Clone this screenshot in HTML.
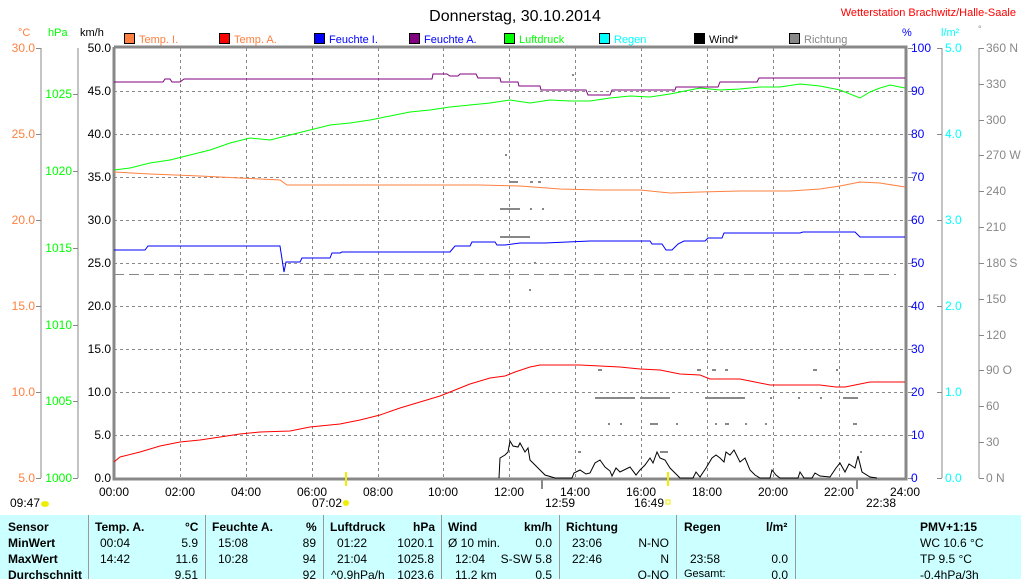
<!DOCTYPE html>
<html><head><meta charset="utf-8"><style>
body{margin:0;background:#fff;width:1021px;height:579px;overflow:hidden;font-family:"Liberation Sans",sans-serif}
svg text{font-family:"Liberation Sans",sans-serif;font-size:12px}
.tb{position:absolute;left:0;top:515px;width:1021px;height:64px;background:#ccffff;font-size:12px}
.tb div{position:absolute;white-space:nowrap}
.b{font-weight:bold}
.sep{position:absolute;top:0;width:1px;height:64px;background:#999}
</style></head><body>
<svg width="1021" height="515" style="position:absolute;left:0;top:0">
<text x="515" y="21" font-size="16" text-anchor="middle" style="font-size:16px">Donnerstag, 30.10.2014</text>
<text x="1016" y="16" fill="#f00" text-anchor="end" style="font-size:11px">Wetterstation Brachwitz/Halle-Saale</text>
<g style="font-size:11px">
<text x="18" y="36" fill="#ff8040" style="font-size:11px">°C</text>
<text x="48" y="36" fill="#0f0" style="font-size:11px">hPa</text>
<text x="80" y="36" style="font-size:11px">km/h</text>
<text x="902" y="36" fill="#00f" style="font-size:11px">%</text>
<text x="941" y="36" fill="#0ff" style="font-size:11px">l/m²</text>
<text x="978" y="32" fill="#888" style="font-size:9px">°</text>
</g>
<g stroke="#000" stroke-width="1">
<rect x="124.5" y="33.5" width="10" height="10" fill="#ff8040"/><rect x="219.5" y="33.5" width="10" height="10" fill="#f00"/>
<rect x="314.5" y="33.5" width="10" height="10" fill="#00f"/><rect x="409.5" y="33.5" width="10" height="10" fill="#800080"/>
<rect x="504.5" y="33.5" width="10" height="10" fill="#0f0"/><rect x="599.5" y="33.5" width="10" height="10" fill="#0ff"/>
<rect x="694.5" y="33.5" width="10" height="10" fill="#000"/><rect x="789.5" y="33.5" width="10" height="10" fill="#888"/>
</g>
<g style="font-size:11px">
<text x="139" y="43" fill="#ff8040" style="font-size:11px">Temp. I.</text><text x="234" y="43" fill="#ff8040" style="font-size:11px">Temp. A.</text>
<text x="329" y="43" fill="#00f" style="font-size:11px">Feuchte I.</text><text x="424" y="43" fill="#00f" style="font-size:11px">Feuchte A.</text>
<text x="519" y="43" fill="#0f0" style="font-size:11px">Luftdruck</text><text x="614" y="43" fill="#0ff" style="font-size:11px">Regen</text>
<text x="709" y="43" style="font-size:11px">Wind*</text><text x="804" y="43" fill="#888" style="font-size:11px">Richtung</text>
</g>
<!-- grid -->
<g stroke="#888" stroke-dasharray="3,3" stroke-width="1">
<path d="M114 91.5H906M114 134.5H906M114 177.5H906M114 220.5H906M114 263.5H906M114 306.5H906M114 349.5H906M114 392.5H906M114 435.5H906"/>
<path d="M180.5 48V478M246.5 48V478M312.5 48V478M378.5 48V478M443.5 48V478M509.5 48V478M575.5 48V478M641.5 48V478M707.5 48V478M773.5 48V478M839.5 48V478"/>
</g>
<path d="M114 274.5H896" stroke="#888" stroke-dasharray="10,5"/>
<!-- frame -->
<path d="M114 47V479H906V47H114" fill="none" stroke="#888" stroke-width="3"/>
<!-- left axes -->
<g stroke="#888" fill="none"><path d="M41 48V478M78 48V478"/>
<path d="M36 48.5h5M36 134.5h5M36 220.5h5M36 306.5h5M36 392.5h5M36 478.5h5M73 94.5h5M73 171.5h5M73 248.5h5M73 325.5h5M73 401.5h5M73 478.5h5"/>
<path d="M908 48.5h5M908 91.5h5M908 134.5h5M908 177.5h5M908 220.5h5M908 263.5h5M908 306.5h5M908 349.5h5M908 392.5h5M908 435.5h5M908 478.5h5"/>
<path d="M942 48V478M937 48.5h5M937 134.5h5M937 220.5h5M937 306.5h5M937 392.5h5M937 478.5h5"/>
<path d="M979 48V478M979 48.5h5M979 84.5h5M979 120.5h5M979 155.5h5M979 191.5h5M979 227.5h5M979 263.5h5M979 299.5h5M979 335.5h5M979 370.5h5M979 406.5h5M979 442.5h5M979 478.5h5"/></g>
<g fill="#ff8040" text-anchor="end" style="font-size:11px">
<text x="35" y="52">30.0</text><text x="35" y="138">25.0</text><text x="35" y="224">20.0</text><text x="35" y="310">15.0</text><text x="35" y="396">10.0</text><text x="35" y="482">5.0</text></g>
<g fill="#0c0" text-anchor="end" style="font-size:11px">
<text x="72" y="98" fill="#0f0">1025</text><text x="72" y="175" fill="#0f0">1020</text><text x="72" y="252" fill="#0f0">1015</text><text x="72" y="329" fill="#0f0">1010</text><text x="72" y="405" fill="#0f0">1005</text><text x="72" y="482" fill="#0f0">1000</text></g>
<g text-anchor="end" style="font-size:11px">
<text x="111" y="52">50.0</text><text x="111" y="95">45.0</text><text x="111" y="138">40.0</text><text x="111" y="181">35.0</text><text x="111" y="224">30.0</text><text x="111" y="267">25.0</text><text x="111" y="310">20.0</text><text x="111" y="353">15.0</text><text x="111" y="396">10.0</text><text x="111" y="439">5.0</text><text x="111" y="482">0.0</text></g>
<g fill="#00f" style="font-size:11px">
<text x="911" y="52">100</text><text x="911" y="95">90</text><text x="911" y="138">80</text><text x="911" y="181">70</text><text x="911" y="224">60</text><text x="911" y="267">50</text><text x="911" y="310">40</text><text x="911" y="353">30</text><text x="911" y="396">20</text><text x="911" y="439">10</text><text x="911" y="482">0</text></g>
<g fill="#0ff" style="font-size:11px">
<text x="945" y="52">5.0</text><text x="945" y="138">4.0</text><text x="945" y="224">3.0</text><text x="945" y="310">2.0</text><text x="945" y="396">1.0</text><text x="945" y="482">0.0</text></g>
<g fill="#888" style="font-size:11px">
<text x="986" y="52">360 N</text><text x="986" y="88">330</text><text x="986" y="124">300</text><text x="986" y="159">270 W</text><text x="986" y="195">240</text><text x="986" y="231">210</text><text x="986" y="267">180 S</text><text x="986" y="303">150</text><text x="986" y="339">120</text><text x="986" y="374">90  O</text><text x="986" y="410">60</text><text x="986" y="446">30</text><text x="986" y="482">0    N</text></g>
<!-- x labels -->
<g text-anchor="middle" style="font-size:11px">
<text x="114" y="496">00:00</text><text x="180" y="496">02:00</text><text x="246" y="496">04:00</text><text x="312" y="496">06:00</text><text x="378" y="496">08:00</text><text x="443" y="496">10:00</text><text x="509" y="496">12:00</text><text x="575" y="496">14:00</text><text x="641" y="496">16:00</text><text x="707" y="496">18:00</text><text x="773" y="496">20:00</text><text x="839" y="496">22:00</text><text x="905" y="496">24:00</text></g>
<g style="font-size:11px"><text x="10" y="507">09:47</text><text x="312" y="507">07:02</text><text x="545" y="507">12:59</text><text x="634" y="507">16:49</text><text x="866" y="507">22:38</text></g>
<ellipse cx="45" cy="504" rx="4" ry="3" fill="#ee0"/><circle cx="346" cy="503" r="3" fill="#ee0"/><rect x="666" y="500" width="4" height="4" fill="none" stroke="#ee0"/>
<path d="M346 472V486M668 472V486" stroke="#ee0" stroke-width="2"/>
<path d="M542 479V489M857 479V489" stroke="#888" stroke-width="2"/>
<!-- series -->
<polyline fill="none" stroke="#800080" points="114,82 163,82 165,79 170,79 172,82 180,82 184,79 225,79 226,79 432,79 433,74 447,74 450,76 458,76 460,74 476,74 478,78 500,78 501,82 518,82 519,86 540,86 541,90 586,90 588,95 610,95 612,90 675,90 676,87 718,87 720,82 757,82 759,78 905,78"/>
<polyline fill="none" stroke="#0f0" points="114,170 130,168 150,163 170,160 190,155 210,150 230,143 250,138 270,140 290,135 310,130 330,125 350,123 370,120 390,116 410,112 430,110 450,107 470,105 490,103 510,100 530,103 550,100 570,101 590,101 610,98 630,96 650,97 670,94 690,90 700,88 720,90 740,89 760,87 780,87 800,84 820,86 840,90 860,98 870,92 880,88 890,85 905,88"/>
<polyline fill="none" stroke="#ff8040" points="114,172 150,174 200,176 260,179 280,180 287,185 420,185 480,185 520,186 560,189 600,190 640,190 670,193 700,192 740,191 790,191 820,189 840,186 860,182 880,183 905,187"/>
<polyline fill="none" stroke="#00f" points="114,250 145,250 148,246 280,246 284,272 286,262 300,262 302,258 330,258 332,253 340,253 342,252 450,252 455,246 470,246 472,242 495,242 497,245 505,245 520,243 545,243 590,241 640,241 650,241 652,244 662,244 666,250 672,250 678,244 684,241 705,241 708,238 722,238 724,233 800,233 803,232 855,232 860,237 905,237"/>
<polyline fill="none" stroke="#f00" points="114,462 120,457 140,452 160,446 180,442 200,440 220,437 240,434 260,432 290,431 310,427 340,424 360,420 380,415 400,408 420,402 440,396 455,390 470,384 490,378 505,376 515,372 530,367 540,365 580,365 600,366 620,367 640,369 660,370 680,374 700,375 710,379 740,379 770,385 820,385 836,387 845,387 860,384 870,382 905,382"/>
<polyline fill="none" stroke="#000" points="499,478 500,458 505,455 508,452 510,441 513,446 518,447 520,443 525,452 528,448 530,460 535,465 540,470 545,475 555,478 572,478 574,473 580,470 586,474 590,473 595,463 600,460 605,467 610,471 612,476 616,468 620,472 630,467 636,475 640,470 645,465 650,458 653,463 657,452 660,458 665,460 670,468 675,473 680,478 693,478 696,472 700,477 706,468 712,458 716,455 720,458 724,462 726,452 730,455 734,450 740,462 745,458 750,470 755,475 760,478 770,478 772,470 776,475 780,478 798,478 800,472 804,478 812,478 815,473 820,476 830,477 836,468 840,463 845,472 849,464 855,468 858,456 862,472 870,477 877,478"/>
<g fill="#888">
<rect x="505" y="154" width="2" height="2"/><rect x="510" y="181" width="8" height="2"/><rect x="530" y="181" width="3" height="2"/><rect x="538" y="181" width="3" height="2"/>
<rect x="500" y="208" width="20" height="2"/><rect x="530" y="208" width="2" height="2"/><rect x="542" y="208" width="2" height="2"/>
<rect x="500" y="236" width="30" height="2"/><rect x="534" y="262" width="2" height="2"/><rect x="529" y="289" width="2" height="2"/><rect x="572" y="74" width="2" height="2"/>
<rect x="598" y="369" width="4" height="2"/><rect x="697" y="369" width="4" height="2"/><rect x="712" y="369" width="4" height="2"/><rect x="725" y="369" width="3" height="2"/><rect x="813" y="369" width="4" height="2"/><rect x="836" y="369" width="2" height="2"/>
<rect x="595" y="397" width="40" height="2"/><rect x="640" y="397" width="30" height="2"/><rect x="705" y="397" width="40" height="2"/><rect x="770" y="397" width="2" height="2"/><rect x="798" y="397" width="2" height="2"/><rect x="820" y="397" width="2" height="2"/><rect x="843" y="397" width="15" height="2"/>
<rect x="608" y="423" width="2" height="2"/><rect x="620" y="423" width="2" height="2"/><rect x="650" y="423" width="8" height="2"/><rect x="676" y="423" width="2" height="2"/><rect x="715" y="423" width="2" height="2"/><rect x="725" y="423" width="4" height="2"/><rect x="745" y="423" width="2" height="2"/><rect x="765" y="423" width="2" height="2"/><rect x="853" y="423" width="4" height="2"/>
<rect x="578" y="451" width="3" height="2"/><rect x="660" y="451" width="8" height="2"/><rect x="860" y="451" width="2" height="2"/></g>
</svg>
<div class="tb">
<div class="sep" style="left:88px"></div><div class="sep" style="left:205px"></div><div class="sep" style="left:323px"></div><div class="sep" style="left:441px"></div><div class="sep" style="left:559px"></div><div class="sep" style="left:676px"></div><div class="sep" style="left:795px"></div>
<div class="b" style="left:8px;top:5px">Sensor</div><div class="b" style="left:8px;top:21px">MinWert</div><div class="b" style="left:8px;top:37px">MaxWert</div><div class="b" style="left:8px;top:53px">Durchschnitt</div>
<div class="b" style="left:95px;top:5px">Temp. A.</div><div class="b" style="left:185px;top:5px">°C</div>
<div style="left:100px;top:21px">00:04</div><div style="right:823px;top:21px">5.9</div>
<div style="left:100px;top:37px">14:42</div><div style="right:823px;top:37px">11.6</div><div style="right:823px;top:53px">9.51</div>
<div class="b" style="left:212px;top:5px">Feuchte A.</div><div class="b" style="left:306px;top:5px">%</div>
<div style="left:218px;top:21px">15:08</div><div style="right:705px;top:21px">89</div>
<div style="left:218px;top:37px">10:28</div><div style="right:705px;top:37px">94</div><div style="right:705px;top:53px">92</div>
<div class="b" style="left:330px;top:5px">Luftdruck</div><div class="b" style="left:413px;top:5px">hPa</div>
<div style="left:337px;top:21px">01:22</div><div style="right:587px;top:21px">1020.1</div>
<div style="left:337px;top:37px">21:04</div><div style="right:587px;top:37px">1025.8</div>
<div style="left:331px;top:53px">^0.9hPa/h</div><div style="right:587px;top:53px">1023.6</div>
<div class="b" style="left:448px;top:5px">Wind</div><div class="b" style="left:524px;top:5px">km/h</div>
<div style="left:448px;top:21px">Ø 10 min.</div><div style="right:469px;top:21px">0.0</div>
<div style="left:455px;top:37px">12:04</div><div style="right:469px;top:37px">S-SW 5.8</div>
<div style="left:455px;top:53px">11.2 km</div><div style="right:469px;top:53px">0.5</div>
<div class="b" style="left:566px;top:5px">Richtung</div>
<div style="left:572px;top:21px">23:06</div><div style="right:352px;top:21px">N-NO</div>
<div style="left:572px;top:37px">22:46</div><div style="right:352px;top:37px">N</div><div style="right:352px;top:53px">O-NO</div>
<div class="b" style="left:684px;top:5px">Regen</div><div class="b" style="left:766px;top:5px">l/m²</div>
<div style="left:690px;top:37px">23:58</div><div style="right:233px;top:37px">0.0</div>
<div style="left:684px;top:53px;font-size:11px">Gesamt:</div><div style="right:233px;top:53px">0.0</div>
<div class="b" style="left:920px;top:5px">PMV+1:15</div>
<div style="left:920px;top:21px">WC 10.6 °C</div><div style="left:920px;top:37px">TP 9.5 °C</div><div style="left:920px;top:53px">-0.4hPa/3h</div>
</div>
</body></html>
